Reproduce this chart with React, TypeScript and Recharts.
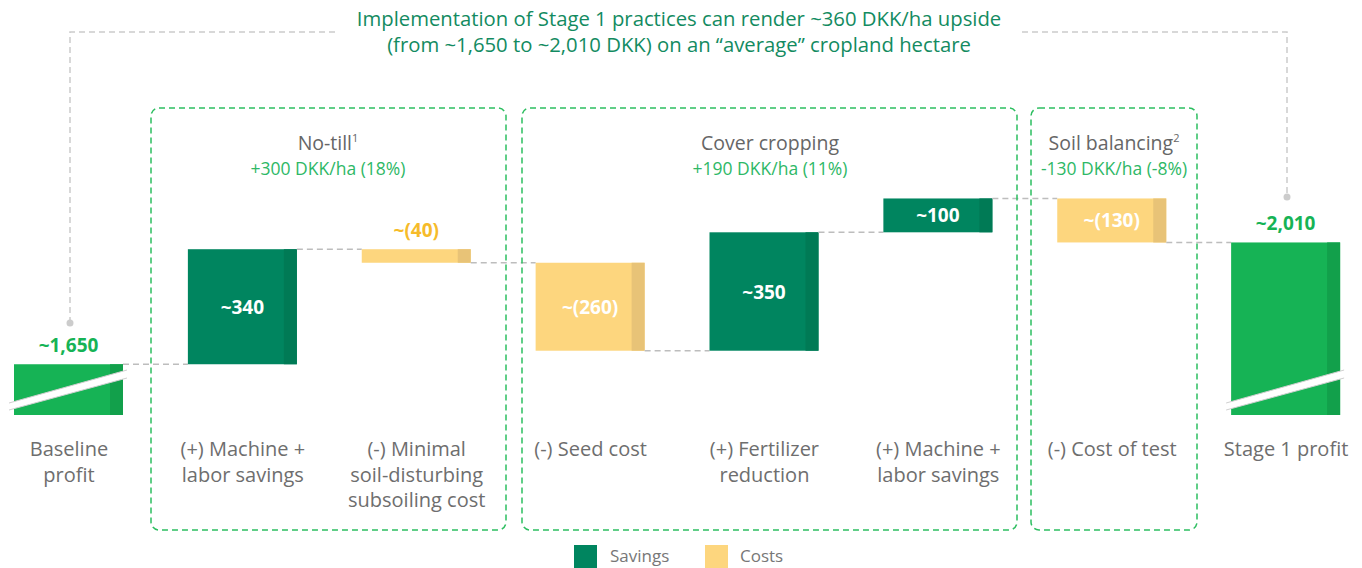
import { Bar, ComposedChart, XAxis, YAxis } from "recharts";

// waterfall steps (DKK/ha)
const categories = [
  "Baseline\nprofit",
  "(+) Machine +\nlabor savings",
  "(-) Minimal\nsoil-disturbing\nsubsoiling cost",
  "(-) Seed cost",
  "(+) Fertilizer\nreduction",
  "(+) Machine +\nlabor savings",
  "(-) Cost of test",
  "Stage 1 profit",
];
const values = [1650, 340, -40, -260, 350, 100, -130, 2010];
const kinds = ["total", "saving", "cost", "cost", "saving", "saving", "cost", "total"];
const valueLabels = ["~1,650", "~340", "~(40)", "~(260)", "~350", "~100", "~(130)", "~2,010"];

const groups = [
  { title: "No-till", sup: "1", sub: "+300 DKK/ha (18%)", x0: 151, x1: 506, cx: 328 },
  { title: "Cover cropping", sup: "", sub: "+190 DKK/ha (11%)", x0: 522, x1: 1017, cx: 770 },
  { title: "Soil balancing", sup: "2", sub: "-130 DKK/ha (-8%)", x0: 1031, x1: 1197, cx: 1114 },
];

const AXIS_MIN = 1500;
const AXIS_MAX = 2700;
const CHART_W = 1391;
const BAR = 109;
const GAP = CHART_W / categories.length - BAR;
const FONT = "'Open Sans', sans-serif";

const colors: Record<string, [string, string]> = {
  total: ["#16b355", "#12a04b"],
  saving: ["#00855f", "#007a55"],
  cost: ["#fdd67e", "#e8c377"],
};

let running = 0;
const data = values.map((v, i) => {
  let range: [number, number];
  if (kinds[i] === "total") {
    range = [AXIS_MIN, v];
    running = v;
  } else {
    const end = running + v;
    range = [Math.min(running, end), Math.max(running, end)];
    running = end;
  }
  return { id: i, range };
});

const WaterfallBar = (props: any) => {
  const { x, y, width, height, index } = props;
  const kind = kinds[index];
  const [main, dark] = colors[kind];
  const bottom = y + height;
  const level = kind === "cost" ? bottom : y;
  const last = index === categories.length - 1;
  const cx = x + width / 2;
  const small = height < 20;
  const labelColor =
    kind === "total" ? "#16b355" : small ? "#f6bb2a" : "#ffffff";
  const labelY = kind === "total" || small ? y - 12 : y + height / 2 + 7;
  return (
    <g>
      <rect x={x} y={y} width={width} height={height} fill={main} />
      <rect x={x + width - 13} y={y} width={13} height={height} fill={dark} />
      {kind === "total" && (
        <g>
          <polygon
            points={`${x - 5},${bottom - 12} ${x + width + 4},${bottom - 45} ${x + width + 4},${bottom - 37} ${x - 5},${bottom - 5}`}
            fill="#ffffff"
          />
          <line x1={x - 5} y1={bottom - 12} x2={x + width + 4} y2={bottom - 45} stroke="#cfcfcf" strokeWidth={1} />
          <line x1={x - 5} y1={bottom - 5} x2={x + width + 4} y2={bottom - 37} stroke="#cfcfcf" strokeWidth={1} />
        </g>
      )}
      {!last && (
        <line
          x1={x + width}
          y1={level}
          x2={x + width + GAP}
          y2={level}
          stroke="#bdbdbd"
          strokeWidth={1.5}
          strokeDasharray="6 4"
        />
      )}
      <text
        x={cx}
        y={labelY}
        textAnchor="middle"
        fontFamily={FONT}
        fontWeight={700}
        fontSize={19}
        fill={labelColor}
      >
        {valueLabels[index]}
      </text>
    </g>
  );
};

const CategoryTick = (props: any) => {
  const { x, y, payload } = props;
  const lines = categories[payload.value].split("\n");
  return (
    <text x={x} y={y + 35} textAnchor="middle" fontFamily={FONT} fontSize={20} fill="#6e6e6e">
      {lines.map((line, i) => (
        <tspan key={i} x={x} dy={i === 0 ? 0 : 25.5}>
          {line}
        </tspan>
      ))}
    </text>
  );
};

const Overlay = () => (
  <svg
    width={1362}
    height={568}
    style={{ position: "absolute", left: 0, top: 0, pointerEvents: "none" }}
  >
    <text x={679} y={26} textAnchor="middle" fontFamily={FONT} fontSize={20.3} fill="#138b61">
      Implementation of Stage 1 practices can render ~360 DKK/ha upside
    </text>
    <text x={679} y={52} textAnchor="middle" fontFamily={FONT} fontSize={20.3} fill="#138b61">
      (from ~1,650 to ~2,010 DKK) on an “average” cropland hectare
    </text>
    <polyline
      points="70,323 70,32 337,32"
      fill="none"
      stroke="#cccccc"
      strokeWidth={1.5}
      strokeDasharray="6 4"
    />
    <polyline
      points="1022,32 1287,32 1287,197"
      fill="none"
      stroke="#cccccc"
      strokeWidth={1.5}
      strokeDasharray="6 4"
    />
    <circle cx={70} cy={323} r={3.5} fill="#cccccc" />
    <circle cx={1287} cy={197} r={3.5} fill="#cccccc" />
    {groups.map((g) => (
      <g key={g.title}>
        <rect
          x={g.x0}
          y={108}
          width={g.x1 - g.x0}
          height={422}
          rx={8}
          fill="none"
          stroke="#2dbe60"
          strokeWidth={1.5}
          strokeDasharray="6 4"
        />
        <text x={g.cx} y={150} textAnchor="middle" fontFamily={FONT} fontSize={19.5} fill="#666666">
          {g.title}
          {g.sup && (
            <tspan fontSize={11} dy={-8}>
              {g.sup}
            </tspan>
          )}
        </text>
        <text x={g.cx} y={175} textAnchor="middle" fontFamily={FONT} fontSize={17.5} fill="#2eb866">
          {g.sub}
        </text>
      </g>
    ))}
    <rect x={574} y={545} width={23} height={23} fill={colors.saving[0]} />
    <text x={610} y={562} fontFamily={FONT} fontSize={17} fill="#777777">
      Savings
    </text>
    <rect x={705} y={545} width={23} height={23} fill={colors.cost[0]} />
    <text x={740} y={562} fontFamily={FONT} fontSize={17} fill="#777777">
      Costs
    </text>
  </svg>
);

export default function App() {
  return (
    <div
      style={{
        position: "absolute",
        left: 0,
        top: 0,
        width: 1362,
        height: 568,
        overflow: "hidden",
        background: "#ffffff",
      }}
    >
      <div style={{ position: "absolute", left: -18, top: 0 }}>
        <ComposedChart
          width={CHART_W}
          height={568}
          data={data}
          margin={{ top: 9, right: 0, bottom: 0, left: 0 }}
        >
          <XAxis
            dataKey="id"
            type="category"
            height={153}
            axisLine={false}
            tickLine={false}
            tickMargin={0}
            interval={0}
            tick={<CategoryTick />}
          />
          <YAxis hide domain={[AXIS_MIN, AXIS_MAX]} allowDataOverflow />
          <Bar dataKey="range" barSize={BAR} isAnimationActive={false} shape={WaterfallBar} />
        </ComposedChart>
      </div>
      <Overlay />
    </div>
  );
}
